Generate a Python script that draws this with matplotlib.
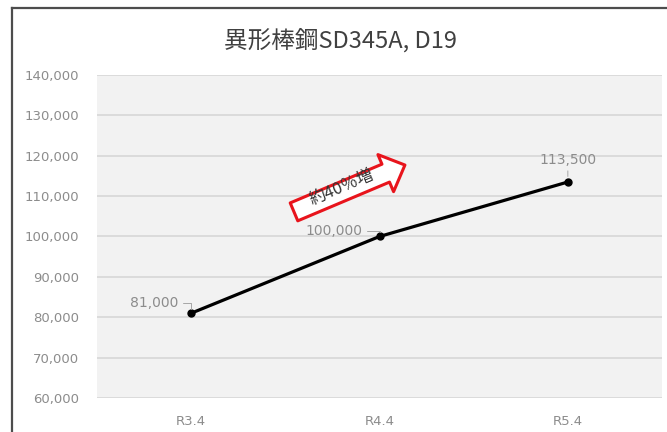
import matplotlib
matplotlib.use("Agg")
import matplotlib.pyplot as plt
from matplotlib.lines import Line2D
from matplotlib.ticker import FuncFormatter

plt.rcParams['font.family'] = ['Noto Sans CJK JP', 'DejaVu Sans']

# price data
periods = ['R3.4', 'R4.4', 'R5.4']
prices = [81000, 100000, 113500]
title = '異形棒鋼SD345A, D19'
note = '約40％増'

# where each value label sits relative to its point (points) and its leader style
label_offsets = [(-9, 7), (-12, 4), (0, 11)]
label_align = ['right', 'right', 'center']

fig = plt.figure(figsize=(6.67, 4.32), dpi=100)
fig.patch.set_facecolor('white')
ax = fig.add_axes([97 / 667, 1 - 398 / 432, 565 / 667, 323 / 432])
ax.set_facecolor('#f2f2f2')

x = range(len(periods))
ax.plot(x, prices, color='black', lw=2.3, marker='o', ms=5, zorder=3)

ax.set_xlim(-0.5, len(periods) - 0.5)
ax.set_ylim(60000, 140000)
ax.set_yticks(range(60000, 140001, 10000))
ax.yaxis.set_major_formatter(FuncFormatter(lambda v, p: f'{int(v):,}'))
ax.set_xticks(list(x))
ax.set_xticklabels(periods)

ax.grid(axis='y', color='#d9d9d9', lw=1.3)
ax.set_axisbelow(True)
for s in ax.spines.values():
    s.set_visible(False)
ax.tick_params(axis='both', length=0, colors='#8c8c8c', labelsize=9.5)
ax.tick_params(axis='y', pad=13)
ax.tick_params(axis='x', pad=12)
for lab in ax.get_xticklabels() + ax.get_yticklabels():
    lab.set_family('DejaVu Sans')

# value labels with small leader lines
for i, (v, off, ha) in enumerate(zip(prices, label_offsets, label_align)):
    if ha == 'right':
        ax.annotate(f'{v:,}', xy=(i, v), xytext=off, textcoords='offset points',
                    ha='right', va='center', fontsize=10, color='#8c8c8c',
                    family='DejaVu Sans',
                    arrowprops=dict(arrowstyle='-', color='#a6a6a6', lw=0.7,
                                    connectionstyle='angle,angleA=0,angleB=90,rad=0',
                                    shrinkA=1, shrinkB=3))
    else:
        ax.annotate(f'{v:,}', xy=(i, v), xytext=off, textcoords='offset points',
                    ha='center', va='bottom', fontsize=10, color='#8c8c8c',
                    family='DejaVu Sans',
                    arrowprops=dict(arrowstyle='-', color='#a6a6a6', lw=0.7,
                                    shrinkA=1, shrinkB=4))

# red block arrow showing the increase, with its caption on top
ax.annotate('', xy=(1.135, 117700), xytext=(0.546, 106100),
            arrowprops=dict(arrowstyle='simple,head_length=1.5,head_width=2.9,tail_width=1.4',
                            fc='white', ec='#e8141c', lw=2.2,
                            shrinkA=0, shrinkB=0, mutation_scale=10))
ax.text(0.80, 112100, note, rotation=23, rotation_mode='anchor',
        ha='center', va='center', fontsize=12, color='#333333')

fig.text(0.51, 1 - 40 / 432, title, ha='center', va='center',
         fontsize=17, color='#404040')

# outer chart frame (top and left edges visible)
fig.add_artist(Line2D([12 / 667, 12 / 667], [0, 1 - 8 / 432], color='#4d4d4d', lw=1.6))
fig.add_artist(Line2D([12 / 667, 1], [1 - 8 / 432, 1 - 8 / 432], color='#4d4d4d', lw=1.6))

fig.savefig('out.png', dpi=100)
